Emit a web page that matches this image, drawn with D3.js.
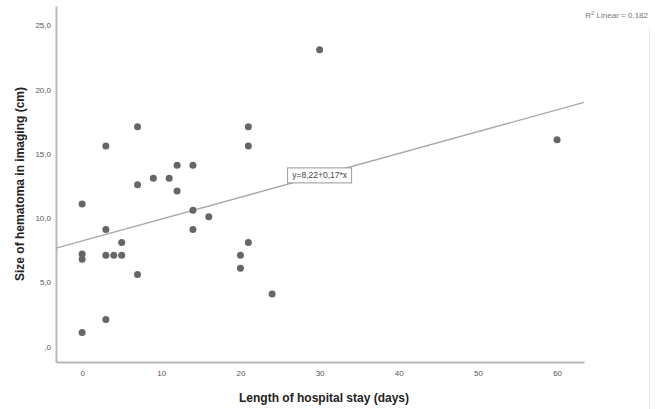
<!DOCTYPE html>
<html>
<head>
<meta charset="utf-8">
<script src="https://cdn.jsdelivr.net/npm/d3@7"></script>
<style>
    body { margin: 0; background: #fff; }
    svg { display: block; font-family: "Liberation Sans", Arial, sans-serif; }
</style>
</head>
<body>
<svg width="655" height="409"></svg>
<script>
// days in hospital / hematoma size (cm)
var stayDays = [30, 7, 21, 3, 21, 12, 14, 9, 11, 7, 12, 0, 14, 16, 3, 14, 5, 21, 0, 0, 3, 4, 5, 20, 7, 20, 24, 3, 0, 60];
var hematomaSize = [23.1, 17.1, 17.1, 15.6, 15.6, 14.1, 14.1, 13.1, 13.1, 12.6, 12.1, 11.1, 10.6, 10.1, 9.1, 9.1, 8.1, 8.1, 7.2, 6.8, 7.1, 7.1, 7.1, 7.1, 5.6, 6.1, 4.1, 2.1, 1.1, 16.1];
var xTicks = [0, 10, 20, 30, 40, 50, 60];
var yTicks = [0, 5, 10, 15, 20, 25];
var fitIntercept = 8.22, fitSlope = 0.17;
var rSquared = "0,182";

var svg = d3.select("svg"),
    margin = {top: 6, right: 71, bottom: 47, left: 56},
    width = +svg.attr("width") - margin.left - margin.right,
    height = +svg.attr("height") - margin.top - margin.bottom,
    g = svg.append("g").attr("transform", "translate(" + margin.left + "," + margin.top + ")");

var x = d3.scaleLinear().domain([-3.3, 63.4]).range([0, width]);
var y = d3.scaleLinear().domain([-1.2, 26.5]).range([height, 0]);

var fmt = function (d) { return d === 0 ? ",0" : d3.format(".1f")(d).replace(".", ","); };

// axes
var xAxis = g.append("g")
    .attr("transform", "translate(0," + height + ")")
    .call(d3.axisBottom(x).tickValues(xTicks).tickSize(0).tickPadding(8).tickFormat(d3.format("d")));
var yAxis = g.append("g")
    .call(d3.axisLeft(y).tickValues(yTicks).tickSize(0).tickPadding(5).tickFormat(fmt));

[xAxis, yAxis].forEach(function (a) {
    a.select(".domain").attr("stroke", "#b8b8b8").attr("stroke-width", 2);
    a.selectAll("text").attr("fill", "#555").style("font-size", "8px");
});

// fit line
var fitLine = d3.line()
    .x(function (d) { return x(d); })
    .y(function (d) { return y(fitIntercept + fitSlope * d); });

g.append("path")
    .datum(x.domain())
    .attr("fill", "none")
    .attr("stroke", "#a8a8a8")
    .attr("stroke-width", 1.4)
    .attr("d", fitLine);

// points
g.selectAll("circle")
    .data(stayDays)
    .enter().append("circle")
    .attr("cx", function (d) { return x(d); })
    .attr("cy", function (d, i) { return y(hematomaSize[i]); })
    .attr("r", 3.5)
    .attr("fill", "#666");

// equation label sitting on the line
var lx = x(30), ly = y(fitIntercept + fitSlope * 30);
var lab = g.append("g").attr("transform", "translate(" + lx + "," + ly + ")");
lab.append("rect")
    .attr("x", -32).attr("y", -7.5)
    .attr("width", 64).attr("height", 15)
    .attr("fill", "#fff")
    .attr("stroke", "#999")
    .attr("stroke-width", 1);
lab.append("text")
    .attr("text-anchor", "middle")
    .attr("dy", "0.35em")
    .attr("fill", "#444")
    .style("font-size", "8.5px")
    .text("y=8,22+0,17*x");

// r squared note
var r2 = svg.append("text")
    .attr("x", 648).attr("y", 18)
    .attr("text-anchor", "end")
    .attr("fill", "#777")
    .style("font-size", "8px");
r2.append("tspan").text("R");
r2.append("tspan").attr("dy", -3).style("font-size", "6px").text("2");
r2.append("tspan").attr("dy", 3).text(" Linear = " + rSquared);

// faint frame edge on the right
svg.append("line")
    .attr("x1", 649.5).attr("x2", 649.5)
    .attr("y1", 28).attr("y2", 409)
    .attr("stroke", "#ececec");

// axis titles
svg.append("text")
    .attr("x", 324).attr("y", 402)
    .attr("text-anchor", "middle")
    .attr("fill", "#222")
    .style("font-size", "12px")
    .style("font-weight", "bold")
    .text("Length of hospital stay (days)");

svg.append("text")
    .attr("transform", "translate(24,184) rotate(-90)")
    .attr("text-anchor", "middle")
    .attr("fill", "#222")
    .style("font-size", "12px")
    .style("font-weight", "bold")
    .text("Size of hematoma in imaging (cm)");
</script>
</body>
</html>
